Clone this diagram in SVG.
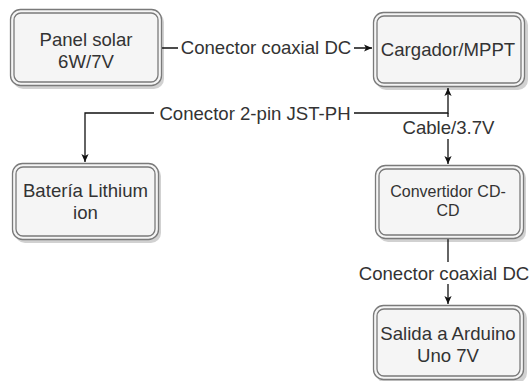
<svg xmlns="http://www.w3.org/2000/svg" width="530" height="381" viewBox="0 0 530 381">
<defs>
<style>
.sh{fill:#000;opacity:0.18}
.outer{fill:#f5f5f5;stroke:#7a7a7a;stroke-width:1.3}
.inner{fill:none;stroke:#7a7a7a;stroke-width:1.3}
.t{font-family:"Liberation Sans",Arial,sans-serif;font-size:18.6px;fill:#333;text-anchor:middle}
.ts{font-family:"Liberation Sans",Arial,sans-serif;font-size:16px;fill:#333;text-anchor:middle}
.e{fill:none;stroke:#111;stroke-width:1.3}
.lb{fill:#fff}
</style>
<marker id="ar" viewBox="0 0 10 10" refX="10" refY="5" markerWidth="8" markerHeight="8" markerUnits="userSpaceOnUse" orient="auto-start-reverse">
<path d="M0,0.5 L10,5 L0,9.5 L2.5,5 Z" fill="#111"/>
</marker>
</defs>
<rect width="530" height="381" fill="#fff"/>

<g id="edges">
<path class="e" d="M162,48 H372" marker-end="url(#ar)"/>
<rect class="lb" x="178" y="37" width="176" height="22"/>
<text class="t" x="266" y="54">Conector coaxial DC</text>

<path class="e" d="M448,88 V113 H85 V162" marker-start="url(#ar)" marker-end="url(#ar)"/>
<rect class="lb" x="154" y="102" width="200" height="22"/>
<text class="t" x="255" y="120">Conector 2-pin JST-PH</text>

<path class="e" d="M448,113 V164" marker-end="url(#ar)"/>
<rect class="lb" x="400" y="117" width="97" height="22"/>
<text class="t" x="448.5" y="134">Cable/3.7V</text>

<path class="e" d="M448,239 V304" marker-end="url(#ar)"/>
<rect class="lb" x="357" y="262" width="173" height="22"/>
<text class="t" x="444" y="280">Conector coaxial DC</text>
</g>

<g id="panel">
<rect class="sh" x="13" y="12" width="151" height="77" rx="10"/>
<rect class="outer" x="10.5" y="9.5" width="151" height="76" rx="10"/>
<rect class="inner" x="14" y="13" width="144" height="69" rx="7"/>
<text class="t" x="86" y="46">Panel solar</text>
<text class="t" x="86" y="68">6W/7V</text>
</g>

<g id="cargador">
<rect class="sh" x="376" y="15" width="152" height="75" rx="10"/>
<rect class="outer" x="373.5" y="12.5" width="151" height="74" rx="10"/>
<rect class="inner" x="377" y="16" width="144" height="67" rx="7"/>
<text class="t" x="448" y="56">Cargador/MPPT</text>
</g>

<g id="bateria">
<rect class="sh" x="15" y="166" width="146" height="77" rx="10"/>
<rect class="outer" x="12.5" y="163.5" width="146" height="76" rx="10"/>
<rect class="inner" x="16" y="167" width="139" height="69" rx="7"/>
<text class="t" x="85.5" y="197">Batería Lithium</text>
<text class="t" x="85.5" y="219">ion</text>
</g>

<g id="convertidor">
<rect class="sh" x="378" y="168" width="148" height="74" rx="10"/>
<rect class="outer" x="375.5" y="165.5" width="148" height="73" rx="10"/>
<rect class="inner" x="379" y="169" width="141" height="66" rx="7"/>
<text class="ts" x="448" y="197">Convertidor CD-</text>
<text class="ts" x="448" y="216">CD</text>
</g>

<g id="salida">
<rect class="sh" x="376" y="308" width="151" height="75" rx="10"/>
<rect class="outer" x="373.5" y="305.5" width="150" height="74" rx="10"/>
<rect class="inner" x="377" y="309" width="143" height="67" rx="7"/>
<text class="t" x="448" y="340">Salida a Arduino</text>
<text class="t" x="448" y="362">Uno 7V</text>
</g>
</svg>
